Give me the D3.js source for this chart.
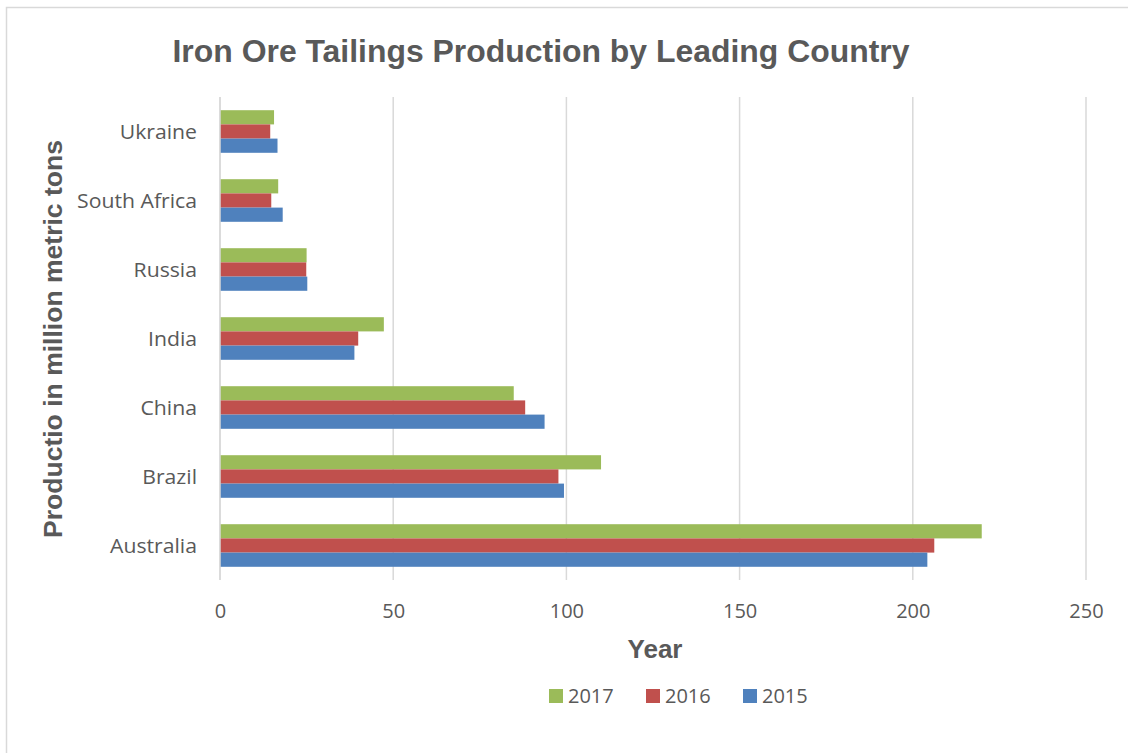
<!DOCTYPE html>
<html>
<head>
<meta charset="utf-8">
<script src="https://cdn.jsdelivr.net/npm/d3@7"></script>
<style>
  html, body { margin: 0; padding: 0; background: #fff; }
  svg { display: block; }
</style>
</head>
<body>
<svg id="chart" width="1128" height="753"></svg>
<script>
// Categories listed bottom-to-top as drawn
const countries = ["Australia", "Brazil", "China", "India", "Russia", "South Africa", "Ukraine"];
const years = ["2017", "2016", "2015"];
// Tailings production, million metric tons
const values2015 = [204.2, 99.3, 93.7, 38.8, 25.2, 18.1, 16.6];
const values2016 = [206.2, 97.7, 88.1, 39.9, 24.9, 14.8, 14.5];
const values2017 = [219.9, 110.0, 84.8, 47.3, 25.0, 16.8, 15.6];
const xTicks = [0, 50, 100, 150, 200, 250];
const colors = { "2017": "#9bbb59", "2016": "#c0504d", "2015": "#4f81bd" };

const seriesByYear = { "2017": values2017, "2016": values2016, "2015": values2015 };

const svg = d3.select("#chart");
const textColor = "#595959";
const labelFont = "'Open Sans', sans-serif";
const titleFont = "'Liberation Sans', Arial, sans-serif";

// Outer chart border
svg.append("rect")
  .attr("x", 6.5).attr("y", 7.5)
  .attr("width", 1140).attr("height", 760)
  .attr("fill", "none").attr("stroke", "#d9d9d9").attr("stroke-width", 1.5);

const plot = { left: 220, right: 1086, top: 97, bottom: 580 };

const x = d3.scaleLinear().domain([0, 250]).range([plot.left, plot.right]);
const y = d3.scaleBand().domain(countries.slice().reverse())
  .range([plot.top, plot.bottom]).paddingInner(0).paddingOuter(0);

// Within a category the bars stack 2017 (top), 2016, 2015 (bottom)
const groupH = y.bandwidth() / 1.62;
const sub = d3.scaleBand().domain(years).range([0, groupH]);

// Vertical gridlines
svg.append("g")
  .selectAll("line")
  .data(xTicks)
  .join("line")
  .attr("x1", d => x(d)).attr("x2", d => x(d))
  .attr("y1", plot.top).attr("y2", plot.bottom)
  .attr("stroke", "#d9d9d9").attr("stroke-width", 1.5);

// Bars
const groups = svg.append("g")
  .selectAll("g")
  .data(countries)
  .join("g")
  .attr("transform", d => `translate(0,${y(d) + (y.bandwidth() - groupH) / 2})`);

groups.selectAll("rect")
  .data((c, i) => years.map(yr => ({ year: yr, value: seriesByYear[yr][i] })))
  .join("rect")
  .attr("x", x(0))
  .attr("y", d => sub(d.year))
  .attr("width", d => x(d.value) - x(0))
  .attr("height", sub.bandwidth())
  .attr("fill", d => colors[d.year]);

// Value axis line at zero
svg.append("line")
  .attr("x1", x(0)).attr("x2", x(0))
  .attr("y1", plot.top).attr("y2", plot.bottom)
  .attr("stroke", "#d9d9d9").attr("stroke-width", 1.5);

// X tick labels
const xAxis = d3.axisBottom(x).tickValues(xTicks).tickSize(0).tickPadding(0);
const gx = svg.append("g").attr("transform", `translate(0,${plot.bottom})`).call(xAxis);
gx.select(".domain").remove();
gx.selectAll("text")
  .attr("dy", 0).attr("y", 38)
  .attr("fill", textColor)
  .style("font-family", labelFont)
  .style("font-size", "20px");

// Category labels
const yAxis = d3.axisLeft(y).tickSize(0).tickPadding(0);
const gy = svg.append("g").attr("transform", `translate(${plot.left - 23},0)`).call(yAxis);
gy.select(".domain").remove();
gy.selectAll("text")
  .attr("dy", "0.35em")
  .attr("fill", textColor)
  .style("font-family", labelFont)
  .style("font-size", "20px")
  .attr("textLength", function () { return this.getComputedTextLength() * 1.06; })
  .attr("lengthAdjust", "spacingAndGlyphs");

// Title
svg.append("text")
  .attr("x", 541).attr("y", 62)
  .attr("text-anchor", "middle")
  .attr("fill", textColor)
  .attr("textLength", 737).attr("lengthAdjust", "spacingAndGlyphs")
  .style("font-family", titleFont)
  .style("font-weight", "bold")
  .style("font-size", "31px")
  .text("Iron Ore Tailings Production by Leading Country");

// Axis titles
svg.append("text")
  .attr("x", 655).attr("y", 658)
  .attr("text-anchor", "middle")
  .attr("fill", textColor)
  .style("font-family", titleFont)
  .style("font-weight", "bold")
  .style("font-size", "26px")
  .text("Year");

svg.append("text")
  .attr("transform", "translate(62,339) rotate(-90)")
  .attr("text-anchor", "middle")
  .attr("fill", textColor)
  .attr("textLength", 398).attr("lengthAdjust", "spacingAndGlyphs")
  .style("font-family", titleFont)
  .style("font-weight", "bold")
  .style("font-size", "26px")
  .text("Productio in million metric tons");

// Legend
const legendItems = [
  { year: "2017", x: 549 },
  { year: "2016", x: 646 },
  { year: "2015", x: 743 }
];
const legend = svg.append("g").selectAll("g").data(legendItems).join("g")
  .attr("transform", d => `translate(${d.x},689)`);
legend.append("rect")
  .attr("width", 14).attr("height", 14)
  .attr("fill", d => colors[d.year]);
legend.append("text")
  .attr("x", 19).attr("y", 7).attr("dy", "0.35em")
  .attr("fill", textColor)
  .style("font-family", labelFont)
  .style("font-size", "20px")
  .text(d => d.year);
</script>
</body>
</html>
